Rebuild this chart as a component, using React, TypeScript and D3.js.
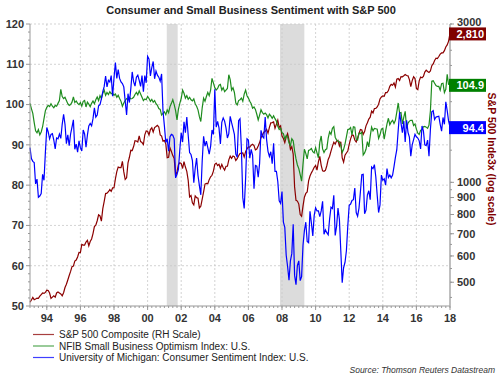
import React from 'react';
import * as d3 from 'd3';

const START_YEAR = 1993;

// S&P 500 Composite, monthly, Jan 1993 - Jan 2018
const sp500: number[] = [
  435, 442, 450, 443, 445, 448, 447, 454, 459, 464, 463, 466,
  473, 472, 464, 447, 451, 455, 451, 464, 467, 464, 461, 455,
  465, 482, 493, 508, 524, 539, 557, 559, 579, 583, 596, 615,
  614, 650, 647, 647, 661, 669, 644, 663, 675, 701, 736, 743,
  766, 798, 792, 764, 833, 876, 925, 928, 937, 951, 939, 962,
  963, 1024, 1077, 1112, 1108, 1108, 1157, 1075, 1021, 1032, 1144, 1190,
  1249, 1247, 1282, 1335, 1332, 1323, 1381, 1327, 1318, 1300, 1391, 1429,
  1426, 1389, 1442, 1461, 1418, 1462, 1473, 1485, 1468, 1390, 1378, 1331,
  1336, 1306, 1186, 1190, 1270, 1239, 1204, 1179, 1045, 1077, 1130, 1145,
  1140, 1101, 1154, 1112, 1079, 1014, 904, 913, 868, 855, 910, 899,
  896, 837, 847, 890, 936, 988, 993, 990, 1019, 1039, 1050, 1081,
  1133, 1143, 1124, 1133, 1102, 1133, 1106, 1089, 1118, 1118, 1169, 1199,
  1181, 1200, 1195, 1164, 1178, 1202, 1222, 1224, 1226, 1192, 1237, 1262,
  1279, 1277, 1294, 1302, 1290, 1253, 1260, 1287, 1318, 1363, 1389, 1416,
  1424, 1445, 1407, 1464, 1511, 1514, 1521, 1455, 1497, 1540, 1463, 1479,
  1379, 1355, 1317, 1370, 1403, 1341, 1257, 1281, 1217, 969, 883, 878,
  860, 800, 790, 848, 902, 926, 936, 1010, 1045, 1068, 1088, 1110,
  1124, 1089, 1152, 1197, 1125, 1083, 1080, 1087, 1122, 1172, 1199, 1242,
  1283, 1321, 1304, 1332, 1338, 1287, 1325, 1185, 1150, 1207, 1226, 1243,
  1301, 1352, 1389, 1386, 1341, 1323, 1360, 1403, 1443, 1438, 1395, 1422,
  1480, 1512, 1551, 1571, 1640, 1619, 1669, 1670, 1687, 1720, 1784, 1808,
  1822, 1817, 1864, 1864, 1890, 1947, 1973, 1962, 1993, 1937, 2045, 2054,
  2028, 2082, 2080, 2095, 2112, 2099, 2094, 2040, 1944, 2025, 2081, 2054,
  1919, 1904, 2022, 2076, 2066, 2084, 2149, 2177, 2158, 2143, 2165, 2247,
  2275, 2330, 2367, 2359, 2395, 2434, 2454, 2456, 2493, 2557, 2594, 2664,
  2810,
];

// NFIB Small Business Optimism Index, monthly, Jan 1993 - Dec 2017
const nfib: number[] = [
  100.3, 99.0, 97.8, 95.5, 93.5, 93.0, 93.8, 92.5, 93.2, 94.5, 96.5, 98.5,
  99.3, 99.8, 99.5, 100.2, 99.6, 99.2, 99.8, 99.6, 100.3, 101.0, 103.8, 102.0,
  101.5, 101.8, 101.0, 100.2, 99.8, 100.0, 100.6, 101.9, 100.5, 100.9, 100.3, 100.0,
  100.5, 99.6, 100.8, 101.0, 99.4, 100.6, 100.1, 99.5, 100.3, 100.9, 100.2, 101.2,
  101.9, 101.0, 102.2, 101.5, 102.8, 103.6, 102.3, 103.0, 102.5, 103.2, 102.7, 102.8,
  102.3, 102.6, 101.8, 102.3, 101.5, 100.8, 99.6, 100.4, 101.0, 101.5, 101.2, 101.8,
  101.4, 101.5, 101.8, 102.5, 103.0, 102.4, 103.4, 102.6, 101.8, 101.0, 101.4, 101.2,
  102.0, 101.5, 100.8, 101.3, 100.6, 101.0, 100.2, 99.8, 99.0, 98.8, 97.4, 97.8,
  98.2, 97.5, 98.7, 98.0, 99.5, 100.3, 101.2, 100.0, 98.5, 96.2, 98.8, 100.3,
  101.5, 103.6, 102.8, 101.6, 102.2, 101.3, 101.8, 101.2, 100.9, 101.4, 100.2, 99.6,
  98.7, 97.0, 95.8, 99.2, 101.6, 100.8, 102.0, 103.0, 102.2, 103.6, 106.5, 105.4,
  104.2, 103.6, 104.0, 104.8, 105.0, 103.6, 104.2, 103.2, 103.6, 104.0, 107.4, 106.2,
  103.6, 104.2, 103.0, 100.4, 99.9, 101.0, 101.2, 101.6, 100.8, 102.6, 103.6, 102.2,
  101.6, 100.8, 100.2, 99.1, 99.4, 98.8, 97.6, 96.2, 97.4, 98.7, 98.0, 97.6,
  97.9, 97.5, 96.7, 97.6, 97.2, 96.6, 97.2, 96.5, 95.9, 94.6, 93.8, 94.1,
  93.0, 92.8, 91.4, 92.3, 92.0, 90.5, 89.8, 91.5, 91.0, 88.5, 86.5, 85.0,
  84.1, 82.6, 81.0, 85.2, 88.9, 87.9, 86.5, 88.6, 88.8, 89.1, 88.3, 88.0,
  89.3, 88.0, 86.8, 90.6, 92.2, 89.0, 88.1, 88.8, 89.0, 91.7, 93.2, 92.6,
  94.1, 94.5, 91.9, 91.2, 90.9, 90.8, 89.9, 88.1, 88.9, 90.2, 92.0, 93.8,
  93.9, 94.3, 92.5, 94.5, 94.4, 91.4, 91.2, 92.9, 92.8, 93.1, 87.5, 88.0,
  88.9, 90.8, 89.5, 92.1, 94.4, 93.5, 94.1, 94.0, 93.9, 91.6, 92.5, 93.9,
  94.1, 91.4, 93.4, 95.2, 96.6, 95.0, 95.7, 96.1, 95.3, 96.1, 98.1, 100.4,
  97.9, 98.0, 95.2, 96.9, 98.3, 94.1, 95.4, 95.9, 96.1, 96.1, 94.8, 95.2,
  93.9, 92.9, 92.6, 93.6, 93.8, 94.5, 94.6, 94.4, 94.1, 94.9, 98.4, 105.8,
  105.9, 105.3, 104.7, 104.5, 104.5, 103.6, 105.2, 105.3, 103.0, 103.8, 107.5, 104.9,
];

// University of Michigan Consumer Sentiment, monthly, Jan 1993 - Jan 2018
const umich: number[] = [
  89.3, 86.6, 85.9, 85.6, 80.3, 81.5, 77.0, 77.3, 77.9, 82.7, 81.2, 88.2,
  94.3, 93.2, 91.5, 92.6, 92.8, 91.2, 89.0, 91.7, 91.5, 92.7, 91.6, 95.1,
  97.6, 95.1, 90.3, 92.5, 89.8, 92.7, 94.4, 96.2, 88.9, 90.2, 88.2, 91.0,
  89.3, 88.5, 93.7, 92.7, 89.4, 92.4, 94.7, 95.3, 94.7, 96.5, 99.2, 96.9,
  97.4, 99.7, 100.0, 101.4, 103.2, 104.5, 107.1, 104.4, 106.0, 105.6, 107.2, 102.1,
  106.6, 110.4, 106.5, 108.7, 106.5, 105.6, 105.2, 104.4, 100.9, 97.4, 102.7, 100.5,
  103.9, 108.1, 105.7, 104.6, 106.8, 107.3, 106.0, 104.5, 107.2, 103.2, 107.2, 105.4,
  112.0, 111.3, 107.1, 109.2, 110.7, 106.4, 108.3, 107.3, 106.8, 105.8, 107.6, 98.4,
  94.7, 90.6, 91.5, 88.4, 92.0, 92.6, 92.4, 91.5, 81.8, 82.7, 83.9, 88.8,
  93.0, 90.7, 95.7, 93.0, 96.9, 92.4, 88.1, 87.6, 86.1, 80.6, 84.2, 86.7,
  82.4, 79.9, 77.6, 86.0, 92.1, 89.7, 90.9, 89.3, 87.7, 89.6, 93.7, 92.6,
  103.8, 94.4, 95.8, 94.2, 90.2, 95.6, 96.7, 95.9, 94.2, 91.7, 92.8, 97.1,
  95.5, 94.1, 92.6, 87.7, 86.9, 96.0, 96.5, 89.1, 76.9, 74.2, 81.6, 91.5,
  91.2, 86.7, 88.9, 87.4, 79.1, 84.9, 84.7, 82.0, 85.4, 93.6, 92.1, 91.7,
  96.9, 91.3, 88.4, 87.1, 88.3, 85.3, 90.4, 83.4, 83.4, 80.9, 76.1, 75.5,
  78.4, 70.8, 69.5, 62.6, 59.8, 56.4, 61.2, 63.0, 70.3, 57.6, 55.3, 60.1,
  61.2, 56.3, 57.3, 65.1, 68.7, 70.8, 66.0, 65.7, 73.5, 70.6, 67.4, 72.5,
  74.4, 73.6, 73.6, 72.2, 73.6, 76.0, 67.8, 68.9, 68.2, 67.7, 71.6, 74.5,
  74.2, 77.5, 67.5, 69.8, 74.3, 71.5, 63.7, 55.8, 59.5, 60.8, 63.7, 69.9,
  75.0, 75.3, 76.2, 76.4, 79.3, 73.2, 72.3, 74.3, 78.3, 82.6, 82.7, 72.9,
  73.8, 77.6, 78.6, 76.4, 84.5, 84.1, 85.1, 82.1, 77.5, 73.2, 75.1, 82.5,
  81.2, 81.6, 80.0, 84.1, 81.9, 82.5, 81.8, 82.5, 84.6, 86.9, 88.8, 93.6,
  98.1, 95.4, 93.0, 95.9, 90.7, 96.1, 93.1, 91.9, 87.2, 90.0, 91.3, 92.6,
  92.0, 91.7, 91.0, 89.0, 94.7, 93.5, 90.0, 89.8, 91.2, 87.2, 93.8, 98.2,
  98.5, 96.3, 96.9, 97.0, 97.1, 95.1, 93.4, 96.8, 95.1, 100.7, 98.5, 95.9,
  94.4,
];

const xTickYears: number[] = [1994, 1996, 1998, 2000, 2002, 2004, 2006, 2008, 2010, 2012, 2014, 2016, 2018];
const xTickLabels: string[] = ['94', '96', '98', '00', '02', '04', '06', '08', '10', '12', '14', '16', '18'];
const leftTicks: number[] = [50, 60, 70, 80, 90, 100, 110, 120];
const rightTickLabels: number[] = [500, 600, 700, 800, 900, 1000, 3000];
const rightMinorTicks: number[] = [450, 500, 550, 600, 650, 700, 750, 800, 850, 900, 950, 1000, 1250, 1500, 1750, 2000, 2250, 2500, 2750, 3000];
const recessions: [number, number][] = [[2001.14, 2001.79], [2007.88, 2009.33]];

const seriesNames = [
  'S&P 500 Composite (RH Scale)',
  'NFIB Small Business Optimism Index: U.S.',
  'University of Michigan: Consumer Sentiment Index: U.S.',
];
const seriesColors = ['#8b0000', '#1e8c1e', '#0000ff'];
const boxColors = ['#7f0000', '#008000', '#0000ff'];
const endLabels = ['2,810', '104.9', '94.4'];

const FONT = "'Liberation Sans', Arial, Helvetica, sans-serif";

export default function App() {
  const left = 30, right = 450, top = 24, bottom = 306;
  const x = d3.scaleLinear().domain([START_YEAR, 2018]).range([left, right]);
  const yL = d3.scaleLinear().domain([50, 120]).range([bottom, top]);
  const yR = d3.scaleLog().domain([424, 3000]).range([bottom, top]);
  const t = (i: number) => START_YEAR + i / 12;

  const lineL = d3.line<number>().x((_, i) => x(t(i))).y((d) => yL(d));
  const lineR = d3.line<number>().x((_, i) => x(t(i))).y((d) => yR(d));

  const minorX: number[] = d3.range(START_YEAR, 2018.001, 0.25);
  const minorL: number[] = d3.range(50, 120.001, 2);

  const endVals = [
    yR(sp500[sp500.length - 1]),
    yL(nfib[nfib.length - 1]),
    yL(umich[umich.length - 1]),
  ];

  return (
    <svg width={502} height={376} style={{ position: 'absolute', left: 0, top: 0, background: '#fff' }} fontFamily={FONT}>
      <text x={251} y={14} textAnchor="middle" fontSize={11} fontWeight="bold" fill="#222">
        Consumer and Small Business Sentiment with S&amp;P 500
      </text>

      {recessions.map(([a, b], i) => (
        <rect key={i} x={x(a)} y={top} width={x(b) - x(a)} height={bottom - top} fill="#dcdcdc" />
      ))}

      {leftTicks.filter((v) => v > 50).map((v) => (
        <line key={'gh' + v} x1={left} x2={right} y1={yL(v)} y2={yL(v)} stroke="#c8c8c8" strokeWidth={0.8} strokeDasharray="2,2" />
      ))}
      {xTickYears.filter((v) => v < 2018).map((v) => (
        <line key={'gv' + v} x1={x(v)} x2={x(v)} y1={top} y2={bottom} stroke="#c8c8c8" strokeWidth={0.8} strokeDasharray="2,2" />
      ))}

      <path d={lineR(sp500) || ''} fill="none" stroke={seriesColors[0]} strokeWidth={1.2} />
      <path d={lineL(nfib) || ''} fill="none" stroke={seriesColors[1]} strokeWidth={1.2} />
      <path d={lineL(umich) || ''} fill="none" stroke={seriesColors[2]} strokeWidth={1.2} />

      {/* left axis */}
      <line x1={left} x2={left} y1={top} y2={bottom} stroke="#999" strokeWidth={1} />
      {minorL.map((v) => (
        <line key={'ml' + v} x1={left - (v % 10 === 0 ? 4 : 2)} x2={left} y1={yL(v)} y2={yL(v)} stroke="#999" strokeWidth={1} />
      ))}
      {leftTicks.map((v) => (
        <text key={'ll' + v} x={left - 6} y={yL(v)} dy="0.35em" textAnchor="end" fontSize={11} fontWeight="bold" fill="#333">
          {v}
        </text>
      ))}

      {/* bottom axis */}
      <line x1={left} x2={right} y1={bottom} y2={bottom} stroke="#999" strokeWidth={1} />
      {minorX.map((v, i) => (
        <line key={'mx' + i} x1={x(v)} x2={x(v)} y1={bottom} y2={bottom + 2} stroke="#999" strokeWidth={1} />
      ))}
      {xTickYears.map((v, i) => (
        <g key={'xt' + v}>
          <line x1={x(v)} x2={x(v)} y1={bottom} y2={bottom + 4} stroke="#999" strokeWidth={1} />
          <text x={x(v)} y={322} textAnchor="middle" fontSize={11} fontWeight="bold" fill="#333">
            {xTickLabels[i]}
          </text>
        </g>
      ))}

      {/* right axis */}
      <line x1={right} x2={right} y1={top} y2={bottom} stroke="#aaa" strokeWidth={1.5} />
      {rightMinorTicks.map((v) => (
        <line key={'mr' + v} x1={right} x2={right + 2} y1={yR(v)} y2={yR(v)} stroke="#999" strokeWidth={1} />
      ))}
      {rightTickLabels.map((v) => (
        <g key={'rt' + v}>
          <line x1={right} x2={right + 4} y1={yR(v)} y2={yR(v)} stroke="#999" strokeWidth={1} />
          <text x={right + 7} y={yR(v)} dy={v === 3000 ? '0.2em' : '0.35em'} fontSize={11} fontWeight="bold" fill="#333">
            {v}
          </text>
        </g>
      ))}
      <text
        transform={`translate(488, 159) rotate(90)`}
        textAnchor="middle"
        fontSize={10.5}
        fontWeight="bold"
        fill="#800000"
      >
        S&amp;P 500 Inde3x (log scale)
      </text>

      {/* end labels */}
      {endLabels.map((lab, i) => (
        <g key={'el' + i}>
          <rect x={449} y={endVals[i] - 6} width={37} height={13} fill={boxColors[i]} />
          <text x={484} y={endVals[i] + 0.5} dy="0.36em" textAnchor="end" fontSize={11} fontWeight="bold" fill="#fff">
            {lab}
          </text>
        </g>
      ))}

      {/* legend */}
      {seriesNames.map((name, i) => (
        <g key={'lg' + i}>
          <line x1={33} x2={54} y1={334.5 + i * 11.5} y2={334.5 + i * 11.5} stroke={seriesColors[i]} strokeWidth={1.2} opacity={0.75} />
          <text x={59} y={334.5 + i * 11.5} dy="0.35em" fontSize={10} fill="#222">
            {name}
          </text>
        </g>
      ))}

      <text x={495} y={373} textAnchor="end" fontSize={8.5} fontStyle="italic" fill="#333">
        Source: Thomson Reuters Datastream
      </text>
    </svg>
  );
}
